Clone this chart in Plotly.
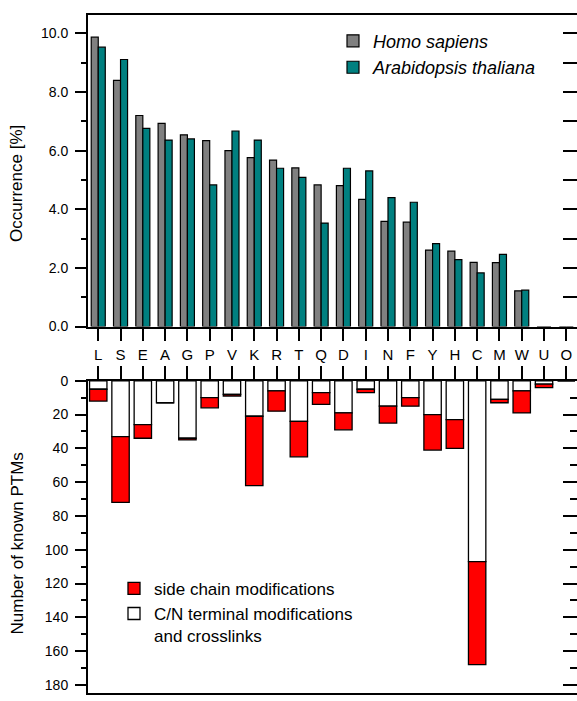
import plotly.graph_objects as go

# ---- data ----
amino_acids = ["L", "S", "E", "A", "G", "P", "V", "K", "R", "T", "Q",
               "D", "I", "N", "F", "Y", "H", "C", "M", "W", "U", "O"]
homo_sapiens = [9.87, 8.40, 7.20, 6.93, 6.54, 6.34, 6.00, 5.76, 5.68, 5.41, 4.83,
                4.81, 4.34, 3.59, 3.56, 2.61, 2.57, 2.19, 2.18, 1.22, 0, 0]
arabidopsis = [9.53, 9.11, 6.76, 6.36, 6.40, 4.83, 6.67, 6.36, 5.40, 5.09, 3.53,
               5.40, 5.31, 4.40, 4.24, 2.83, 2.28, 1.83, 2.46, 1.24, 0, 0]
cn_terminal = [5, 33, 26, 13, 34, 10, 8, 21, 6, 24, 7,
               19, 5, 15, 10, 20, 23, 107, 11, 6, 2, 0]
side_chain = [7, 39, 8, 0, 1, 6, 1, 41, 12, 21, 7,
              10, 2, 10, 5, 21, 17, 61, 2, 13, 2, 0]
top_ticks = [0, 2, 4, 6, 8, 10]
bottom_ticks = [0, 20, 40, 60, 80, 100, 120, 140, 160, 180]

W, H = 577, 701
FONT = "Liberation Sans, Arial, sans-serif"
xdom = [88 / W, 1.0]
top_dom = [(H - 326) / H, (H - 7) / H]
bot_dom = [0.0, (H - 381.5) / H]
xrange_ = [-0.46, 21.48]
top_range = [0, 10.633]
bot_range = [184.8, 0]

fig = go.Figure()
fig.add_bar(x=amino_acids, y=homo_sapiens, name="<i>Homo sapiens</i>",
            marker=dict(color="#808080", line=dict(color="black", width=1.2)),
            xaxis="x", yaxis="y", legend="legend")
fig.add_bar(x=amino_acids, y=arabidopsis, name="<i>Arabidopsis thaliana</i>",
            marker=dict(color="#008080", line=dict(color="black", width=1.2)),
            xaxis="x", yaxis="y", legend="legend")
fig.add_bar(x=amino_acids, y=cn_terminal,
            name="C/N terminal modifications<br>and crosslinks",
            marker=dict(color="white", line=dict(color="black", width=1.3)),
            width=0.78, offsetgroup="ptm", xaxis="x2", yaxis="y2",
            legend="legend2", legendrank=2)
fig.add_bar(x=amino_acids, y=side_chain, base=cn_terminal,
            name="side chain modifications",
            marker=dict(color="#ff0000", line=dict(color="black", width=1.3)),
            width=0.78, offsetgroup="ptm", xaxis="x2", yaxis="y2",
            legend="legend2", legendrank=1)

axis_common = dict(showgrid=False, zeroline=False, showline=True,
                   linecolor="black", linewidth=2, tickcolor="black",
                   tickwidth=2)
label_axis = dict(showgrid=False, zeroline=False, showline=False,
                  tickcolor="black", tickwidth=2, ticks="outside",
                  ticklen=12, tickfont=dict(size=14), ticklabelstandoff=4)

fig.update_layout(
    width=W, height=H,
    margin=dict(l=0, r=0, t=0, b=0),
    paper_bgcolor="white", plot_bgcolor="white",
    font=dict(family=FONT, color="black"),
    barmode="group", bargap=0.37, bargroupgap=0,
    xaxis=dict(domain=xdom, anchor="y", type="category",
               categoryorder="array", categoryarray=amino_acids,
               range=xrange_, ticks="outside", ticklen=12, mirror=True,
               tickfont=dict(size=15), ticklabelstandoff=1, **axis_common),
    # top panel: right-hand axis carries the inward ticks, box lines
    yaxis=dict(domain=top_dom, anchor="x", side="right", range=top_range,
               tickmode="linear", tick0=0, dtick=1, ticks="inside",
               ticklen=14, showticklabels=False, mirror=True, **axis_common),
    # top panel: left-hand labelled axis
    yaxis3=dict(overlaying="y", side="left", anchor="x", range=top_range,
                tickvals=top_ticks, tickformat=".1f",
                minor=dict(dtick=1, ticks="outside", ticklen=6,
                           tickcolor="black", tickwidth=2),
                **label_axis),
    xaxis2=dict(domain=xdom, anchor="y2", side="top", type="category",
                categoryorder="array", categoryarray=amino_acids,
                range=xrange_, ticks="outside", ticklen=13,
                showticklabels=False, mirror=True, **axis_common),
    yaxis2=dict(domain=bot_dom, anchor="x2", side="right", range=bot_range,
                tickmode="linear", tick0=0, dtick=20, ticks="inside",
                ticklen=14, showticklabels=False, mirror=True,
                minor=dict(dtick=10, ticks="inside", ticklen=7,
                           tickcolor="black", tickwidth=2),
                **axis_common),
    yaxis4=dict(overlaying="y2", side="left", anchor="x2", range=bot_range,
                tickvals=bottom_ticks,
                minor=dict(dtick=10, ticks="outside", ticklen=6,
                           tickcolor="black", tickwidth=2),
                **label_axis),
    legend=dict(x=333 / W, y=(H - 15) / H, xanchor="left", yanchor="top",
                font=dict(size=18), bgcolor="rgba(0,0,0,0)",
                traceorder="normal", itemwidth=30, tracegroupgap=0),
    legend2=dict(x=114 / W, y=(H - 576) / H, xanchor="left", yanchor="top",
                 font=dict(size=17), bgcolor="rgba(0,0,0,0)",
                 itemwidth=30, tracegroupgap=0, valign="top"),
    showlegend=True,
    annotations=[
        dict(text="Occurrence [%]", xref="paper", yref="paper",
             x=17 / W, y=(H - 180) / H, textangle=-90, showarrow=False,
             font=dict(size=17), xanchor="center", yanchor="middle"),
        dict(text="Number of known PTMs", xref="paper", yref="paper",
             x=17 / W, y=(H - 548) / H, textangle=-90, showarrow=False,
             font=dict(size=17), xanchor="center", yanchor="middle"),
    ],
)

# invisible helper traces so the labelled overlay axes are drawn
fig.add_scatter(x=[amino_acids[0]], y=[0], xaxis="x", yaxis="y3",
                mode="markers", marker=dict(opacity=0), showlegend=False,
                hoverinfo="skip")
fig.add_scatter(x=[amino_acids[0]], y=[0], xaxis="x2", yaxis="y4",
                mode="markers", marker=dict(opacity=0), showlegend=False,
                hoverinfo="skip")

fig.write_html(
    "out.html",
    config={"displayModeBar": False},
    post_script="document.body.style.margin='0';document.body.style.padding='0';"
                "document.body.style.overflow='hidden';",
)
